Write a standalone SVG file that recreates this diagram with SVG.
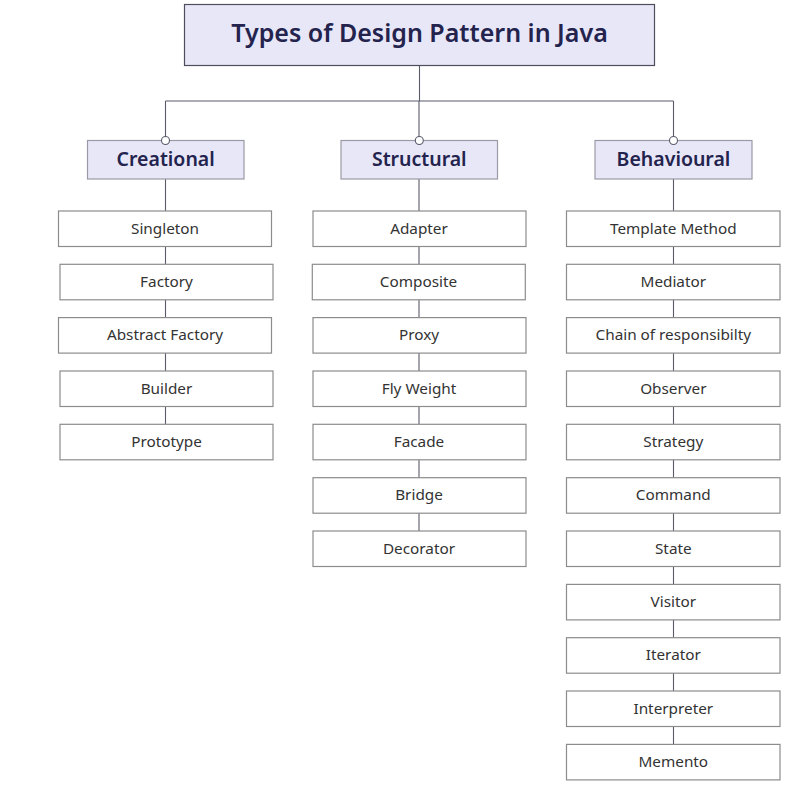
<svg xmlns="http://www.w3.org/2000/svg" width="811" height="802" viewBox="0 0 811 802">
<style>
.bg{fill:#ffffff}
.title rect{fill:#E7E7F8;stroke:#4d4d5c;stroke-width:1.2}
.title text{font-family:"Noto Sans","Open Sans",sans-serif;font-size:25px;font-weight:600;fill:#23234d;text-anchor:middle;dominant-baseline:central}
.cat rect{fill:#E7E7F8;stroke:#9a9aa6;stroke-width:1.2}
.cat text{font-family:"Noto Sans","Open Sans",sans-serif;font-size:19.5px;font-weight:600;fill:#23234d;text-anchor:middle;dominant-baseline:central}
.item rect{fill:#ffffff;stroke:#8c8c8c;stroke-width:1.2}
.item text{font-family:"Noto Sans","Open Sans",sans-serif;font-size:15.3px;fill:#333333;text-anchor:middle;dominant-baseline:central}
.conn line{stroke:#5a5a6a;stroke-width:1.1;fill:none}
.conn circle{fill:#ffffff;stroke:#5a5a6a;stroke-width:1.1}
</style>
<rect class="bg" x="0" y="0" width="811" height="802"/>

<g id="connectors" class="conn">
  <line x1="419.5" y1="66" x2="419.5" y2="101"/>
  <line x1="165.5" y1="101" x2="673.5" y2="101"/>
  <line x1="165.5" y1="101" x2="165.5" y2="137"/>
  <line x1="419" y1="101" x2="419" y2="137"/>
  <line x1="673.5" y1="101" x2="673.5" y2="137"/>
  <line x1="165.5" y1="179" x2="165.5" y2="424"/>
  <line x1="419" y1="179" x2="419" y2="531"/>
  <line x1="673.5" y1="179" x2="673.5" y2="745"/>
</g>

<g id="title" class="title">
  <rect x="184.5" y="4.5" width="470" height="61"/>
  <text x="419.5" y="32">Types of Design Pattern in Java</text>
</g>

<g id="creational" class="cat">
  <rect x="87.5" y="140.5" width="156.5" height="38.5"/>
  <text x="165.7" y="158">Creational</text>
</g>
<g id="structural" class="cat">
  <rect x="341" y="140.5" width="156.5" height="38.5"/>
  <text x="419.3" y="158">Structural</text>
</g>
<g id="behavioural" class="cat">
  <rect x="595" y="140.5" width="157" height="38.5"/>
  <text x="673.5" y="158">Behavioural</text>
</g>

<g class="conn">
  <circle cx="165.5" cy="140.5" r="4"/>
  <circle cx="419.3" cy="140.5" r="4"/>
  <circle cx="673.5" cy="140.5" r="4"/>
</g>

<g id="singleton" class="item"><rect x="58.5" y="211" width="213" height="35.5"/><text x="165" y="227.6">Singleton</text></g>
<g id="factory" class="item"><rect x="60" y="264.3" width="213" height="35.5"/><text x="166.5" y="281">Factory</text></g>
<g id="abstract-factory" class="item"><rect x="58.5" y="317.6" width="213" height="35.5"/><text x="165" y="334.3">Abstract Factory</text></g>
<g id="builder" class="item"><rect x="60" y="371" width="213" height="35.5"/><text x="166.5" y="387.6">Builder</text></g>
<g id="prototype" class="item"><rect x="60" y="424.3" width="213" height="35.5"/><text x="166.5" y="441">Prototype</text></g>

<g id="adapter" class="item"><rect x="313" y="211" width="213" height="35.5"/><text x="419" y="227.6">Adapter</text></g>
<g id="composite" class="item"><rect x="312.3" y="264.3" width="213" height="35.5"/><text x="418.5" y="281">Composite</text></g>
<g id="proxy" class="item"><rect x="313" y="317.6" width="213" height="35.5"/><text x="419" y="334.3">Proxy</text></g>
<g id="flyweight" class="item"><rect x="313" y="371" width="213" height="35.5"/><text x="419" y="387.6">Fly Weight</text></g>
<g id="facade" class="item"><rect x="313" y="424.3" width="213" height="35.5"/><text x="419" y="441">Facade</text></g>
<g id="bridge" class="item"><rect x="313" y="477.7" width="213" height="35.5"/><text x="419" y="494.3">Bridge</text></g>
<g id="decorator" class="item"><rect x="313" y="531" width="213" height="35.5"/><text x="419" y="547.6">Decorator</text></g>

<g id="template-method" class="item"><rect x="566.5" y="211" width="213.5" height="35.5"/><text x="673.3" y="227.6">Template Method</text></g>
<g id="mediator" class="item"><rect x="566.5" y="264.3" width="213.5" height="35.5"/><text x="673.3" y="281">Mediator</text></g>
<g id="chain" class="item"><rect x="566.5" y="317.6" width="213.5" height="35.5"/><text x="673.3" y="334.3">Chain of responsibilty</text></g>
<g id="observer" class="item"><rect x="566.5" y="371" width="213.5" height="35.5"/><text x="673.3" y="387.6">Observer</text></g>
<g id="strategy" class="item"><rect x="566.5" y="424.3" width="213.5" height="35.5"/><text x="673.3" y="441">Strategy</text></g>
<g id="command" class="item"><rect x="566.5" y="477.7" width="213.5" height="35.5"/><text x="673.3" y="494.3">Command</text></g>
<g id="state" class="item"><rect x="566.5" y="531" width="213.5" height="35.5"/><text x="673.3" y="547.6">State</text></g>
<g id="visitor" class="item"><rect x="566.5" y="584.4" width="213.5" height="35.5"/><text x="673.3" y="601">Visitor</text></g>
<g id="iterator" class="item"><rect x="566.5" y="637.7" width="213.5" height="35.5"/><text x="673.3" y="654.3">Iterator</text></g>
<g id="interpreter" class="item"><rect x="566.5" y="691" width="213.5" height="35.5"/><text x="673.3" y="707.6">Interpreter</text></g>
<g id="memento" class="item"><rect x="566.5" y="744.4" width="213.5" height="35.5"/><text x="673.3" y="761">Memento</text></g>
</svg>
